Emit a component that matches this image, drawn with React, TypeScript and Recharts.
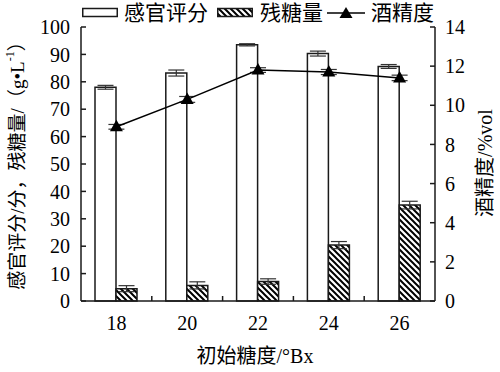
import React from "react";
import {
  ComposedChart,
  Bar,
  Line,
  XAxis,
  YAxis,
  ErrorBar,
  Legend,
  Label,
} from "recharts";

const brix = ["18", "20", "22", "24", "26"];
const sensoryScore = [78, 83.2, 93.5, 90.3, 85.6];
const sensoryErr = [0.7, 1.1, 0.4, 0.9, 0.7];
const residualSugar = [4.5, 5.7, 7.1, 20.4, 35];
const sugarErr = [1.1, 1.3, 1.0, 1.3, 1.4];
const alcohol = [8.9, 10.3, 11.8, 11.7, 11.4];
const alcoholErr = [0.12, 0.15, 0.12, 0.13, 0.14];
const leftTicks = [0, 10, 20, 30, 40, 50, 60, 70, 80, 90, 100];
const rightTicks = [0, 2, 4, 6, 8, 10, 12, 14];

const data = brix.map((b, i) => ({
  brix: b,
  score: sensoryScore[i],
  scoreErr: sensoryErr[i],
  sugar: residualSugar[i],
  sugarErr: sugarErr[i],
  alcohol: alcohol[i],
  alcoholErr: alcoholErr[i],
}));

const FONT = '"Liberation Serif", "Times New Roman", "Noto Sans CJK SC", serif';
const INK = "#1a1a1a";

const Triangle = (p: any) => {
  const { cx, cy } = p;
  if (cx == null || cy == null) return null;
  return (
    <path
      d={`M${cx},${cy - 7} L${cx + 6.5},${cy + 4.5} L${cx - 6.5},${cy + 4.5} Z`}
      fill="#000"
    />
  );
};

const XTick = (p: any) => {
  const { x, y, payload, index, visibleTicksCount, width } = p;
  const band = (width ?? 354) / (visibleTicksCount || 5);
  const axisY = y - 15;
  return (
    <g>
      {index < visibleTicksCount - 1 && (
        <line
          x1={x + band / 2}
          x2={x + band / 2}
          y1={axisY}
          y2={axisY - 5}
          stroke={INK}
          strokeWidth={1.5}
        />
      )}
      <text
        x={x}
        y={y}
        dy="0.71em"
        textAnchor="middle"
        fill="#000"
        fontSize={20}
        fontFamily={FONT}
      >
        {payload.value}
      </text>
    </g>
  );
};

const LegendContent = () => (
  <div
    style={{
      display: "flex",
      alignItems: "center",
      fontFamily: FONT,
      fontSize: 21,
      lineHeight: "24px",
      color: "#000",
      whiteSpace: "nowrap",
    }}
  >
    <svg width={36} height={12} style={{ marginRight: 6 }}>
      <rect x={0.75} y={1.5} width={34.5} height={8} fill="#fff" stroke={INK} strokeWidth={1.5} />
    </svg>
    <span style={{ marginRight: 9 }}>感官评分</span>
    <svg width={36} height={12} style={{ marginRight: 7 }}>
      <rect x={0.75} y={1.5} width={34.5} height={8} fill="url(#hatch)" stroke={INK} strokeWidth={1.5} />
    </svg>
    <span style={{ marginRight: 4 }}>残糖量</span>
    <svg width={38} height={14} style={{ marginRight: 6 }}>
      <line x1={0} x2={38} y1={7} y2={7} stroke="#000" strokeWidth={1.5} />
      <path d="M19,1 L25.5,12 L12.5,12 Z" fill="#000" />
    </svg>
    <span>酒精度</span>
  </div>
);

export default function App() {
  return (
    <div style={{ position: "absolute", left: 0, top: 0, background: "#fff" }}>
      <ComposedChart
        width={500}
        height={372}
        data={data}
        margin={{ top: 27, right: 25, bottom: 21, left: 31 }}
        barGap={0}
        style={{ fontFamily: FONT }}
      >
        <defs>
          <pattern id="hatch" patternUnits="userSpaceOnUse" width={6} height={6}>
            <rect width={6} height={6} fill="#fff" />
            <path d="M0,0 L6,6 M-3,3 L3,9 M3,-3 L9,3" stroke="#000" strokeWidth={2} />
          </pattern>
        </defs>
        <Legend
          verticalAlign="middle"
          align="center"
          layout="horizontal"
          content={<LegendContent />}
          wrapperStyle={{ top: 1, left: 82, width: 400, height: 26 }}
        />
        <XAxis
          dataKey="brix"
          height={50}
          interval={0}
          tickLine={false}
          tickSize={0}
          tickMargin={15}
          axisLine={{ stroke: INK, strokeWidth: 1.5 }}
          tick={<XTick />}
        >
          <Label
            content={(props: any) => {
              const { x, y, width } = props.viewBox;
              return (
                <text
                  x={x + width / 2 - 3}
                  y={y + 55}
                  textAnchor="middle"
                  dominantBaseline="central"
                  fontSize={20}
                  fontFamily={FONT}
                  fill="#000"
                >
                  初始糖度/°Bx
                </text>
              );
            }}
          />
        </XAxis>
        <YAxis
          yAxisId="left"
          width={50}
          domain={[0, 100]}
          ticks={leftTicks}
          interval={0}
          tickSize={-5}
          tickMargin={16}
          axisLine={{ stroke: INK, strokeWidth: 1.5 }}
          tickLine={{ stroke: INK, strokeWidth: 1.5 }}
          tick={{ fill: "#000", fontSize: 20, fontFamily: FONT }}
        >
          <Label
            content={(props: any) => {
              const { x, y, height } = props.viewBox;
              const cx = x - 14;
              const cy = y + height / 2 - 3;
              return (
                <text
                  x={cx}
                  y={cy}
                  transform={`rotate(-90 ${cx} ${cy})`}
                  textAnchor="middle"
                  dominantBaseline="central"
                  fontSize={19}
                  fontFamily={FONT}
                  fill="#000"
                >
                  感官评分/分，残糖量/（g•L
                  <tspan dy={-7} fontSize={12}>-1</tspan>
                  <tspan dy={7}>）</tspan>
                </text>
              );
            }}
          />
        </YAxis>
        <YAxis
          yAxisId="right"
          orientation="right"
          width={40}
          domain={[0, 14]}
          ticks={rightTicks}
          interval={0}
          tickSize={-5}
          tickMargin={15}
          axisLine={{ stroke: INK, strokeWidth: 1.5 }}
          tickLine={{ stroke: INK, strokeWidth: 1.5 }}
          tick={{ fill: "#000", fontSize: 20, fontFamily: FONT }}
        >
          <Label
            content={(props: any) => {
              const { x, y, height } = props.viewBox;
              const cx = x + 50;
              const cy = y + height / 2 - 1;
              return (
                <text
                  x={cx}
                  y={cy}
                  transform={`rotate(-90 ${cx} ${cy})`}
                  textAnchor="middle"
                  dominantBaseline="central"
                  fontSize={20}
                  fontFamily={FONT}
                  fill="#000"
                >
                  酒精度/%vol
                </text>
              );
            }}
          />
        </YAxis>
        <Bar
          yAxisId="left"
          dataKey="score"
          name="感官评分"
          barSize={21}
          fill="#fff"
          stroke={INK}
          strokeWidth={1.5}
          isAnimationActive={false}
        >
          <ErrorBar dataKey="scoreErr" width={8} stroke="#333" strokeWidth={1.2} direction="y" />
        </Bar>
        <Bar
          yAxisId="left"
          dataKey="sugar"
          name="残糖量"
          barSize={21}
          fill="url(#hatch)"
          stroke={INK}
          strokeWidth={1.5}
          isAnimationActive={false}
        >
          <ErrorBar dataKey="sugarErr" width={8} stroke="#333" strokeWidth={1.2} direction="y" />
        </Bar>
        <Line
          yAxisId="right"
          dataKey="alcohol"
          name="酒精度"
          stroke="#000"
          strokeWidth={1.5}
          dot={<Triangle />}
          activeDot={false}
          isAnimationActive={false}
        >
          <ErrorBar dataKey="alcoholErr" width={8} stroke="#333" strokeWidth={1.2} direction="y" />
        </Line>
      </ComposedChart>
    </div>
  );
}
